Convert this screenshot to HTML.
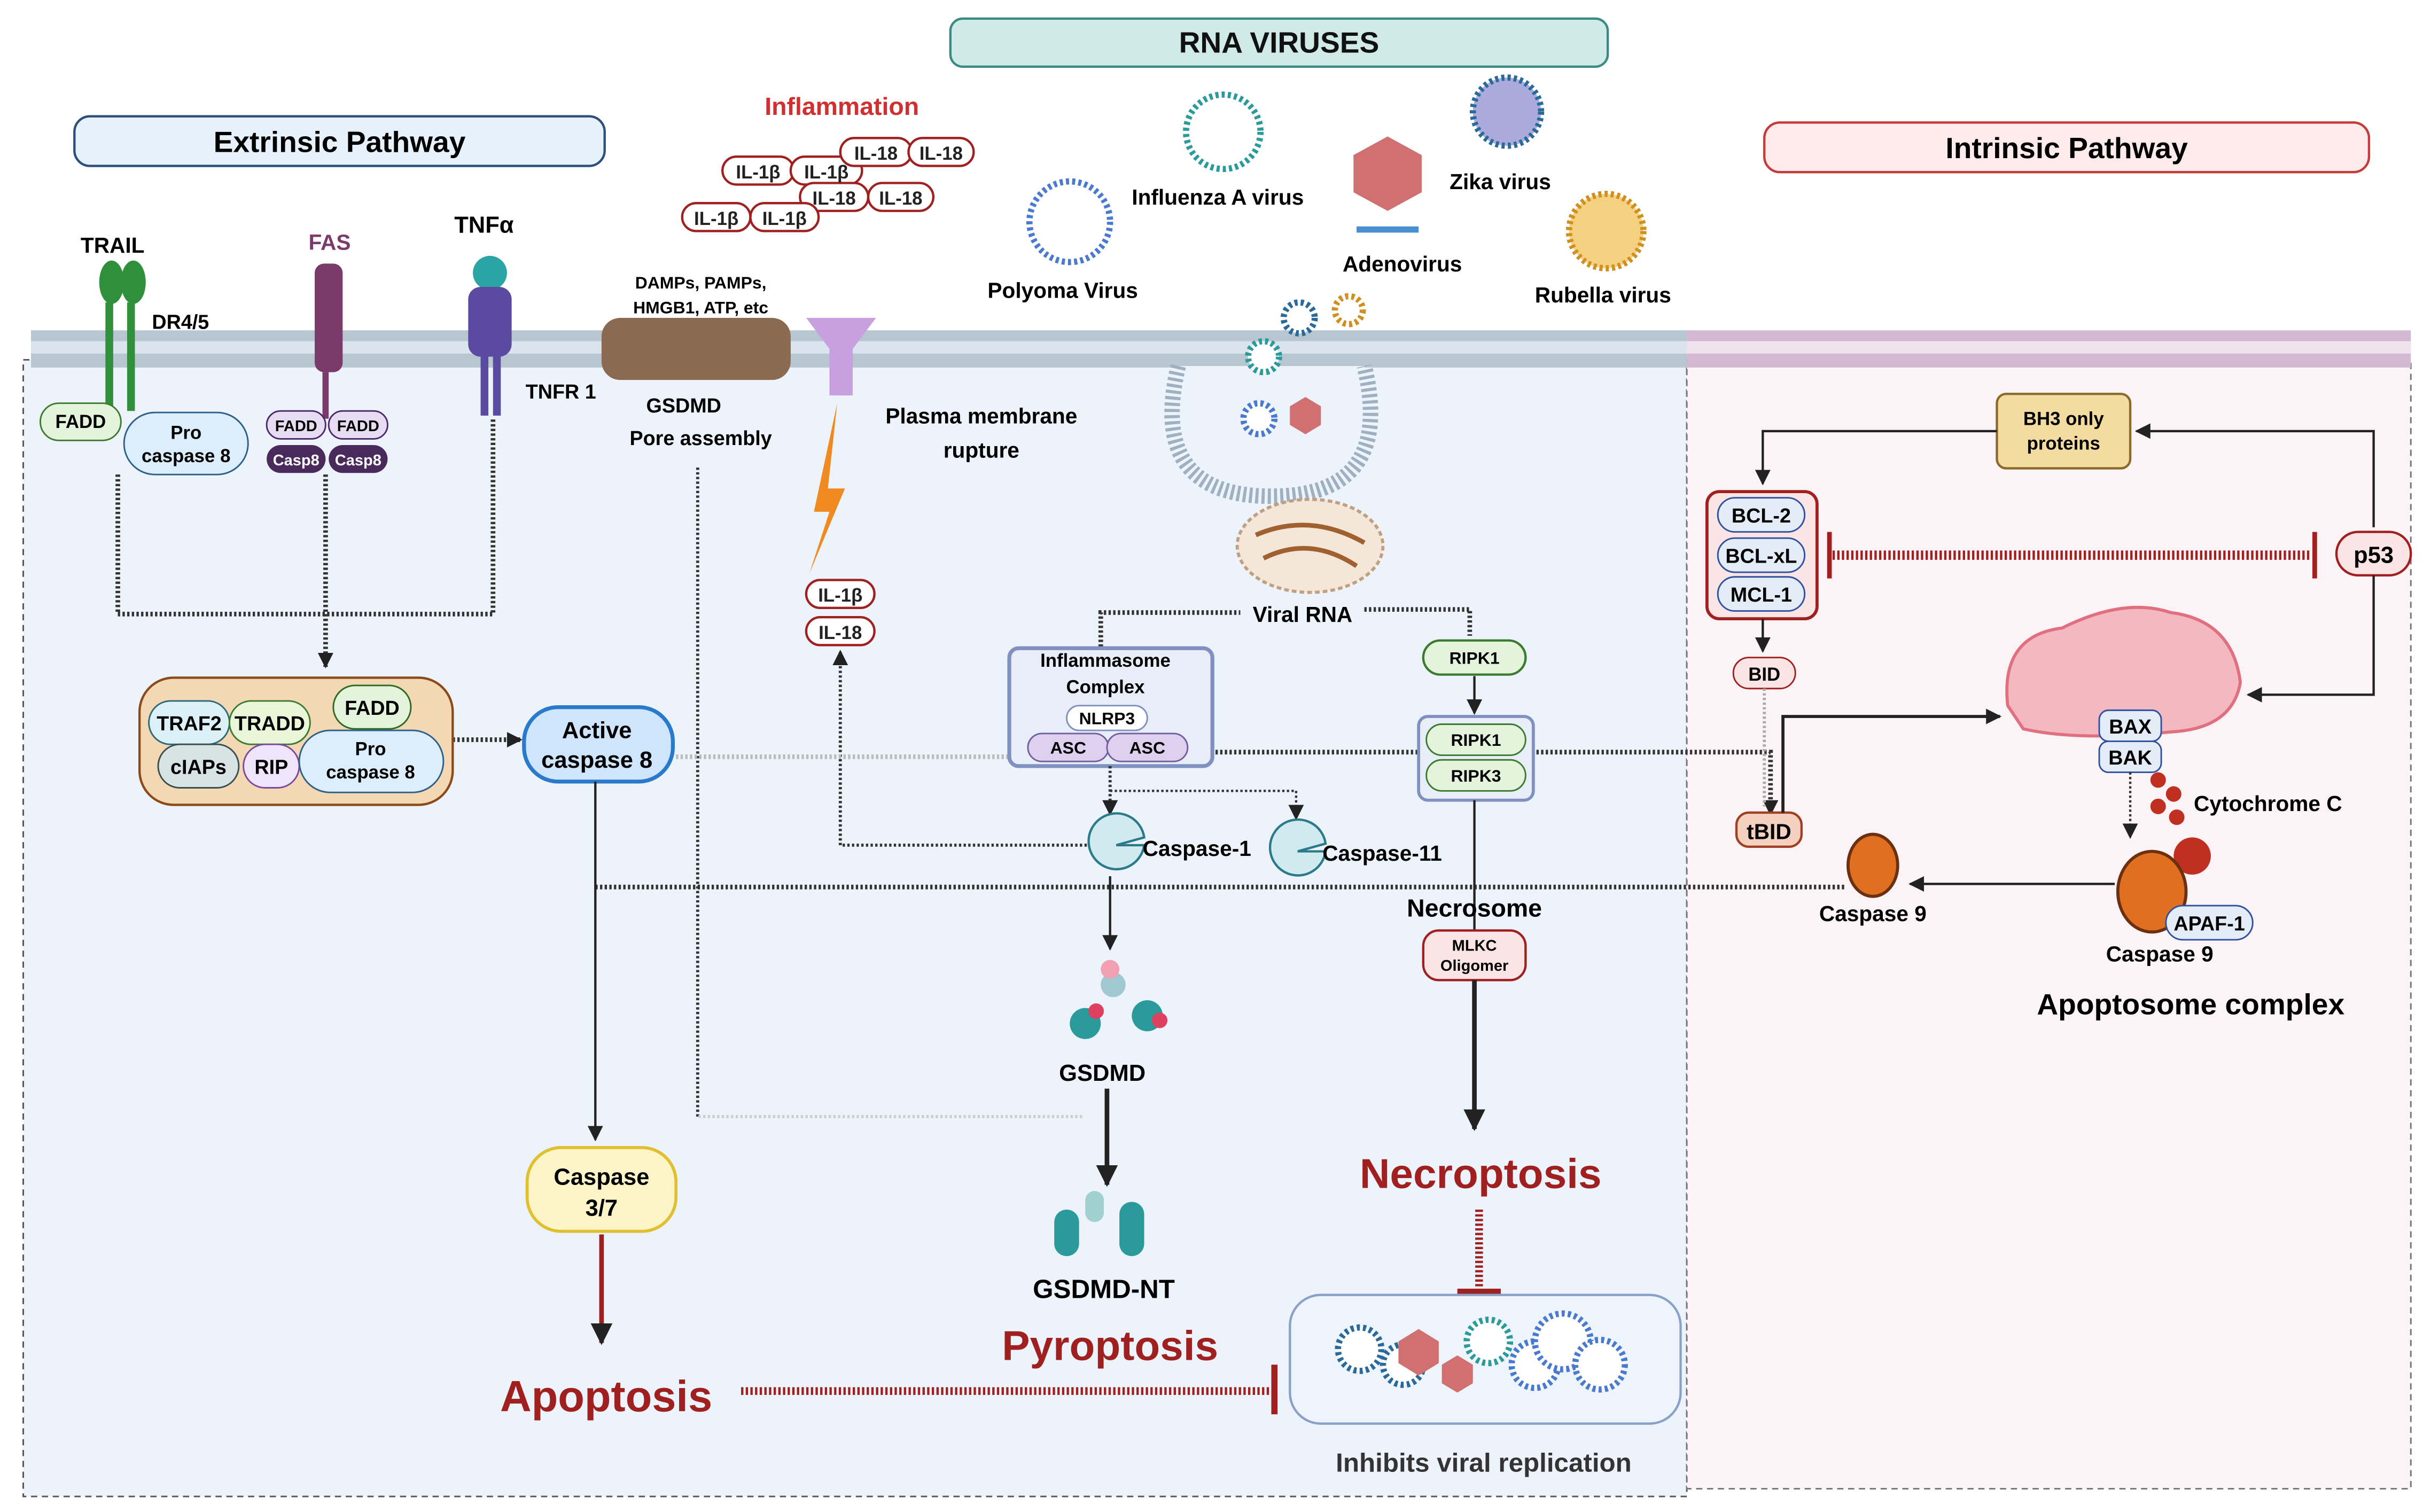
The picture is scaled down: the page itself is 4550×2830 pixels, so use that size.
<!DOCTYPE html>
<html><head><meta charset="utf-8"><style>
html,body{margin:0;padding:0;background:#fff}
svg{display:block}
text{font-family:"Liberation Sans",sans-serif;font-weight:bold}
</style></head><body>
<svg width="4550" height="2830" viewBox="0 0 1568 975" preserveAspectRatio="none" xmlns="http://www.w3.org/2000/svg">
<defs>
<marker id="a" viewBox="0 0 10 10" refX="9" refY="5" markerUnits="userSpaceOnUse" markerWidth="10" markerHeight="10" orient="auto"><path d="M0,0L10,5L0,10z" fill="#222"/></marker>
<marker id="b" viewBox="0 0 10 10" refX="9" refY="5" markerUnits="userSpaceOnUse" markerWidth="14" markerHeight="14" orient="auto"><path d="M0,0L10,5L0,10z" fill="#222"/></marker>
</defs>
<rect width="1568" height="975" fill="#fff"/>
<rect x="15" y="232" width="1073" height="733" fill="#edf3fb" stroke="#555" stroke-dasharray="4,3"/>
<rect x="1088" y="232" width="467" height="728" fill="#fcf3f7" stroke="#777" stroke-dasharray="4,3"/>
<rect x="20" y="213" width="1068" height="24" fill="#b8c6d2"/>
<rect x="20" y="220" width="1068" height="8" fill="#dbe4ec"/>
<rect x="1088" y="213" width="467" height="24" fill="#d4b8d2"/>
<rect x="1088" y="220" width="467" height="8" fill="#efe3ef"/>
<path d="M760,236 Q740,320 820,320 Q900,320 880,236" fill="#edf3fb" stroke="#9fb0c0" stroke-width="10" stroke-dasharray="2,2"/>
<rect x="613" y="12" width="424" height="31" rx="8" fill="#cfeae7" stroke="#3c8a84" stroke-width="1.5"/>
<text x="825" y="34" font-size="19" text-anchor="middle" fill="#111">RNA VIRUSES</text>
<rect x="48" y="75" width="342" height="32" rx="10" fill="#e7f1fb" stroke="#2c4f7c" stroke-width="1.5"/>
<text x="219" y="98" font-size="19" text-anchor="middle">Extrinsic Pathway</text>
<rect x="1138" y="79" width="390" height="32" rx="10" fill="#fdeaea" stroke="#c53b3b" stroke-width="1.5"/>
<text x="1333" y="102" font-size="19" text-anchor="middle">Intrinsic Pathway</text>
<g fill="#2f8f3a"><ellipse cx="72" cy="182" rx="8" ry="14"/><ellipse cx="86" cy="182" rx="8" ry="14"/><rect x="68" y="195" width="5" height="70"/><rect x="82" y="195" width="5" height="70"/></g>
<g fill="#7a3a6a"><rect x="203" y="170" width="18" height="70" rx="6"/><rect x="208" y="240" width="4" height="30"/></g>
<g fill="#5a4aa0"><circle cx="316" cy="176" r="11" fill="#2aa4a4"/><rect x="302" y="185" width="28" height="45" rx="8"/><rect x="310" y="228" width="5" height="40"/><rect x="318" y="228" width="5" height="40"/></g>
<text x="52" y="163" font-size="14">TRAIL</text>
<text x="98" y="212" font-size="13">DR4/5</text>
<text x="199" y="161" font-size="14" fill="#7a3a6a">FAS</text>
<text x="293" y="150" font-size="15">TNFα</text>
<text x="339" y="257" font-size="13">TNFR 1</text>
<rect x="26" y="260" width="52" height="24" rx="12" fill="#e4f4dc" stroke="#3c7a30"/><text x="52" y="276" font-size="12" text-anchor="middle" font-weight="normal">FADD</text>
<rect x="80" y="266" width="80" height="40" rx="20" fill="#dceefb" stroke="#2c5f8a"/><text x="120" y="283" font-size="12" text-anchor="middle">Pro</text><text x="120" y="298" font-size="12" text-anchor="middle">caspase 8</text>
<g font-size="10" text-anchor="middle" font-weight="normal"><rect x="172" y="265" width="38" height="18" rx="9" fill="#e8dcf2" stroke="#4a2a6a"/><text x="191" y="278">FADD</text><rect x="212" y="265" width="38" height="18" rx="9" fill="#e8dcf2" stroke="#4a2a6a"/><text x="231" y="278">FADD</text>
<rect x="172" y="287" width="38" height="18" rx="9" fill="#4a2a5a"/><text x="191" y="300" fill="#fff">Casp8</text><rect x="212" y="287" width="38" height="18" rx="9" fill="#4a2a5a"/><text x="231" y="300" fill="#fff">Casp8</text></g>
<g stroke="#333" stroke-width="3" fill="none" stroke-dasharray="1.5,1.5">
<path d="M76,306 V396 H318 V270"/>
<path d="M210,306 V430" marker-end="url(#a)"/>
<path d="M292,477 H336" marker-end="url(#a)"/>
<path d="M384,572 H1190"/>
<path d="M710,420 V395 H800"/><path d="M880,393 H948 V410"/>
<path d="M784,485 H1142 V525" marker-end="url(#a)"/>
<path d="M450,720 V300" stroke-width="2"/>
<path d="M716,545 H542 V420" stroke-width="2" marker-end="url(#a)"/>
</g>
<path d="M436,488 H660" stroke="#bbb" stroke-width="3" stroke-dasharray="1.5,1.5"/>
<rect x="90" y="437" width="202" height="82" rx="22" fill="#f4d8b4" stroke="#8a4a1a" stroke-width="1.5"/>
<g font-size="13" text-anchor="middle">
<rect x="96" y="452" width="52" height="28" rx="14" fill="#dcf0f8" stroke="#2c6a7a"/><text x="122" y="471">TRAF2</text>
<rect x="148" y="452" width="52" height="28" rx="14" fill="#eaf6d8" stroke="#3c7a30"/><text x="174" y="471">TRADD</text>
<rect x="215" y="442" width="50" height="28" rx="14" fill="#e4f4dc" stroke="#2c6a20"/><text x="240" y="461">FADD</text>
<rect x="102" y="480" width="52" height="28" rx="14" fill="#d8e4e4" stroke="#3a5050"/><text x="128" y="499">cIAPs</text>
<rect x="157" y="480" width="36" height="28" rx="14" fill="#f0e4fa" stroke="#7a4aa0"/><text x="175" y="499">RIP</text>
<rect x="193" y="471" width="93" height="40" rx="20" fill="#dceefb" stroke="#2c5f8a"/><text x="239" y="487" font-size="12">Pro</text><text x="239" y="502" font-size="12">caspase 8</text>
</g>
<rect x="338" y="456" width="96" height="48" rx="22" fill="#cfe5fb" stroke="#2a7acc" stroke-width="2.5"/>
<text x="385" y="476" font-size="15" text-anchor="middle">Active</text><text x="385" y="495" font-size="15" text-anchor="middle">caspase 8</text>
<path d="M384,504 V735" stroke="#222" stroke-width="1.5" marker-end="url(#a)"/>
<rect x="340" y="740" width="96" height="54" rx="22" fill="#fdf5c8" stroke="#e0c030" stroke-width="2"/>
<text x="388" y="764" font-size="15" text-anchor="middle">Caspase</text><text x="388" y="784" font-size="15" text-anchor="middle">3/7</text>
<path d="M388,796 V866" stroke="#a02020" stroke-width="3" marker-end="url(#b)"/>
<text x="391" y="910" font-size="28" text-anchor="middle" fill="#a02020">Apoptosis</text>
<path d="M478,897 H820" stroke="#a02020" stroke-width="5" stroke-dasharray="1.5,1.5"/><path d="M822,880 V912" stroke="#a02020" stroke-width="4"/>
<rect x="388" y="205" width="122" height="40" rx="12" fill="#8a6a50"/>
<text x="452" y="186" font-size="11" text-anchor="middle" font-weight="normal">DAMPs, PAMPs,</text><text x="452" y="202" font-size="11" text-anchor="middle" font-weight="normal">HMGB1, ATP, etc</text>
<text x="441" y="266" font-size="13" text-anchor="middle">GSDMD</text><text x="452" y="287" font-size="13" text-anchor="middle">Pore assembly</text>
<path d="M520,205 H565 L550,225 V255 H535 V225 Z" fill="#c8a0e0"/>
<text x="633" y="273" font-size="14" text-anchor="middle">Plasma membrane</text><text x="633" y="295" font-size="14" text-anchor="middle">rupture</text>
<path d="M540,260 L525,330 L535,330 L522,370 L545,315 L534,315 Z" fill="#f08a20"/>
<text x="543" y="74" font-size="16" text-anchor="middle" fill="#d03030">Inflammation</text>
<g font-size="12" text-anchor="middle" fill="#222">
<g fill="#fff" stroke="#a02020" stroke-width="1.5">
<rect x="466" y="101" width="46" height="18" rx="9"/><rect x="510" y="101" width="46" height="18" rx="9"/><rect x="542" y="89" width="46" height="18" rx="9"/><rect x="586" y="89" width="42" height="18" rx="9"/>
<rect x="516" y="118" width="44" height="18" rx="9"/><rect x="560" y="118" width="42" height="18" rx="9"/><rect x="440" y="131" width="44" height="18" rx="9"/><rect x="484" y="131" width="44" height="18" rx="9"/>
<rect x="520" y="374" width="44" height="18" rx="9"/><rect x="520" y="398" width="44" height="18" rx="9"/></g>
<text x="489" y="115">IL-1β</text><text x="533" y="115">IL-1β</text><text x="565" y="103">IL-18</text><text x="607" y="103">IL-18</text>
<text x="538" y="132">IL-18</text><text x="581" y="132">IL-18</text><text x="462" y="145">IL-1β</text><text x="506" y="145">IL-1β</text>
<text x="542" y="388">IL-1β</text><text x="542" y="412">IL-18</text></g>
<g stroke-dasharray="2,2" stroke-width="4" fill="#fff">
<circle cx="690" cy="143" r="26" stroke="#4a7ad0"/><circle cx="789" cy="85" r="24" stroke="#2a9a9a"/><circle cx="972" cy="72" r="22" stroke="#2a6a9a" fill="#aad"/><circle cx="1036" cy="149" r="24" stroke="#d09020" fill="#f4d080"/>
<circle cx="838" cy="205" r="10" stroke="#2a6a9a"/><circle cx="870" cy="200" r="9" stroke="#d09020"/><circle cx="815" cy="230" r="10" stroke="#2a9a9a"/><circle cx="812" cy="270" r="10" stroke="#4a7ad0"/></g>
<path d="M895,88 L917,100 V124 L895,136 L873,124 V100 Z" fill="#d07070"/><path d="M842,256 L852,262 V274 L842,280 L832,274 V262 Z" fill="#d07070"/>
<rect x="875" y="146" width="40" height="4" fill="#4a90d0"/>
<g font-size="14"><text x="730" y="132">Influenza A virus</text><text x="935" y="122">Zika virus</text><text x="637" y="192">Polyoma  Virus</text><text x="866" y="175">Adenovirus</text><text x="990" y="195">Rubella virus</text></g>
<ellipse cx="845" cy="352" rx="47" ry="30" fill="#f4e6d8" stroke="#c0a080" stroke-dasharray="3,2" stroke-width="2"/>
<path d="M810,345 Q845,330 880,350 M815,360 Q845,345 875,365" stroke="#a06030" stroke-width="3" fill="none"/>
<text x="808" y="401" font-size="14">Viral RNA</text>
<rect x="651" y="418" width="131" height="76" rx="6" fill="#e8eef8" stroke="#8090c0" stroke-width="2.5"/>
<text x="713" y="430" font-size="12" text-anchor="middle">Inflammasome</text><text x="713" y="447" font-size="12" text-anchor="middle">Complex</text>
<rect x="688" y="455" width="52" height="16" rx="8" fill="#fff" stroke="#8090c0"/><text x="714" y="467" font-size="11" text-anchor="middle" font-weight="normal">NLRP3</text>
<rect x="663" y="473" width="52" height="18" rx="9" fill="#e0d0f0" stroke="#7060a0"/><text x="689" y="486" font-size="11" text-anchor="middle">ASC</text>
<rect x="714" y="473" width="52" height="18" rx="9" fill="#e0d0f0" stroke="#7060a0"/><text x="740" y="486" font-size="11" text-anchor="middle">ASC</text>
<path d="M716,494 V525" stroke="#333" stroke-width="2" stroke-dasharray="1.5,1.5" marker-end="url(#a)"/>
<path d="M716,510 H836 V528" stroke="#333" stroke-width="1.5" stroke-dasharray="1.5,1.5" fill="none" marker-end="url(#a)"/>
<path d="M738,545 A18,18 0 1 1 738,540 L720,545 Z" fill="#d0eaf0" stroke="#2a7a8a" stroke-width="1.5"/>
<text x="737" y="552" font-size="14">Caspase-1</text>
<path d="M855,549 A18,18 0 1 1 855,544 L837,549 Z" fill="#d0eaf0" stroke="#2a7a8a" stroke-width="1.5"/>
<text x="853" y="555" font-size="14">Caspase-11</text>
<path d="M716,565 V612" stroke="#222" stroke-width="1.5" marker-end="url(#a)"/>
<g fill="#2a9a9a"><circle cx="700" cy="660" r="10"/><circle cx="740" cy="655" r="10"/><circle cx="718" cy="635" r="8" fill="#a0c8d0"/></g><circle cx="716" cy="625" r="6" fill="#f0a0b0"/><circle cx="707" cy="652" r="5" fill="#e04060"/><circle cx="748" cy="658" r="5" fill="#e04060"/>
<text x="711" y="697" font-size="15" text-anchor="middle">GSDMD</text>
<path d="M714,702 V764" stroke="#222" stroke-width="3" marker-end="url(#b)"/>
<path d="M698,720 H450" stroke="#ccc" stroke-width="2" stroke-dasharray="1.5,1.5"/>
<g fill="#2a9a9a"><rect x="680" y="780" width="16" height="30" rx="8"/><rect x="722" y="775" width="16" height="35" rx="8"/><rect x="700" y="768" width="12" height="20" rx="6" fill="#a0d0d0"/></g>
<text x="712" y="837" font-size="17" text-anchor="middle">GSDMD-NT</text>
<text x="716" y="877" font-size="27" text-anchor="middle" fill="#a02020">Pyroptosis</text>
<rect x="918" y="413" width="66" height="22" rx="11" fill="#e4f4dc" stroke="#3c7a30" stroke-width="1.5"/><text x="951" y="428" font-size="11" text-anchor="middle">RIPK1</text>
<path d="M951,436 V460" stroke="#222" stroke-width="1.5" marker-end="url(#a)"/>
<rect x="915" y="462" width="74" height="54" rx="6" fill="#e8eef8" stroke="#8090c0" stroke-width="2"/>
<rect x="920" y="467" width="64" height="20" rx="10" fill="#e4f4dc" stroke="#3c7a30"/><text x="952" y="481" font-size="11" text-anchor="middle">RIPK1</text>
<rect x="920" y="490" width="64" height="20" rx="10" fill="#e4f4dc" stroke="#3c7a30"/><text x="952" y="504" font-size="11" text-anchor="middle">RIPK3</text>
<path d="M951,516 V600" stroke="#222" stroke-width="1.5"/>
<text x="951" y="591" font-size="16" text-anchor="middle">Necrosome</text>
<rect x="918" y="600" width="66" height="32" rx="10" fill="#fbe4e4" stroke="#a02020" stroke-width="1.5"/>
<text x="951" y="613" font-size="10" text-anchor="middle">MLKC</text><text x="951" y="626" font-size="10" text-anchor="middle">Oligomer</text>
<path d="M951,632 V728" stroke="#222" stroke-width="3" marker-end="url(#b)"/>
<text x="955" y="766" font-size="27" text-anchor="middle" fill="#a02020">Necroptosis</text>
<path d="M954,780 V830" stroke="#a02020" stroke-width="5" stroke-dasharray="1.5,1.5"/><path d="M940,833 H968" stroke="#a02020" stroke-width="4"/>
<rect x="832" y="835" width="252" height="83" rx="20" fill="#eef4fb" stroke="#8aa0c8" stroke-width="1.5"/>
<g stroke-dasharray="2,2" stroke-width="4" fill="#fff"><circle cx="877" cy="870" r="14" stroke="#2a6a9a"/><circle cx="905" cy="880" r="13" stroke="#2a6a9a"/><circle cx="960" cy="865" r="14" stroke="#2a9a9a"/><circle cx="990" cy="880" r="15" stroke="#4a7ad0"/><circle cx="1008" cy="865" r="18" stroke="#4a7ad0"/><circle cx="1032" cy="880" r="16" stroke="#4a7ad0"/></g>
<path d="M915,857 L928,865 V879 L915,887 L902,879 V865 Z" fill="#d07070"/><path d="M940,874 L950,880 V892 L940,898 L930,892 V880 Z" fill="#d07070"/>
<text x="957" y="949" font-size="17" text-anchor="middle" fill="#333">Inhibits viral replication</text>
<rect x="1288" y="254" width="86" height="48" rx="6" fill="#f4dca0" stroke="#8a6a2a" stroke-width="1.5"/>
<text x="1331" y="274" font-size="12" text-anchor="middle">BH3 only</text><text x="1331" y="290" font-size="12" text-anchor="middle">proteins</text>
<path d="M1288,278 H1137 V312" stroke="#222" stroke-width="1.5" fill="none" marker-end="url(#a)"/>
<path d="M1531,340 V278 H1378" stroke="#222" stroke-width="1.5" fill="none" marker-end="url(#a)"/>
<rect x="1101" y="317" width="71" height="82" rx="8" fill="#fbe4e4" stroke="#a02020" stroke-width="2"/>
<g font-size="13" text-anchor="middle"><rect x="1108" y="321" width="56" height="22" rx="11" fill="#e4ecf8" stroke="#3050a0"/><text x="1136" y="337">BCL-2</text>
<rect x="1108" y="347" width="56" height="22" rx="11" fill="#e4ecf8" stroke="#3050a0"/><text x="1136" y="363">BCL-xL</text>
<rect x="1108" y="372" width="56" height="22" rx="11" fill="#e4ecf8" stroke="#3050a0"/><text x="1136" y="388">MCL-1</text></g>
<path d="M1182,358 H1490" stroke="#a02020" stroke-width="6" stroke-dasharray="1.5,1.5"/><path d="M1180,343 V373 M1493,343 V373" stroke="#a02020" stroke-width="3"/>
<rect x="1507" y="343" width="48" height="28" rx="14" fill="#fbe4e4" stroke="#a02020" stroke-width="1.5"/><text x="1531" y="363" font-size="15" text-anchor="middle">p53</text>
<path d="M1531,371 V448 H1450" stroke="#222" stroke-width="1.5" fill="none" marker-end="url(#a)"/>
<path d="M1137,399 V420" stroke="#222" stroke-width="1.5" marker-end="url(#a)"/>
<rect x="1118" y="424" width="40" height="20" rx="10" fill="#fbe4e4" stroke="#a02020"/><text x="1138" y="439" font-size="12" text-anchor="middle" font-weight="normal">BID</text>
<path d="M1138,444 V520" stroke="#aaa" stroke-width="2" stroke-dasharray="1.5,1.5"/>
<rect x="1120" y="524" width="42" height="22" rx="8" fill="#f4d0c0" stroke="#a04020" stroke-width="1.5"/><text x="1141" y="541" font-size="14" text-anchor="middle">tBID</text>
<path d="M1150,524 V462 H1290" stroke="#222" stroke-width="2" fill="none" marker-end="url(#a)"/>
<path d="M1295,455 Q1290,410 1330,405 Q1370,385 1400,395 Q1440,400 1445,440 Q1440,470 1400,472 Q1340,478 1305,470 Z" fill="#f4b8c0" stroke="#e07080" stroke-width="2"/>
<rect x="1354" y="458" width="40" height="20" rx="6" fill="#e4ecf8" stroke="#3050a0"/><text x="1374" y="473" font-size="13" text-anchor="middle">BAX</text>
<rect x="1354" y="478" width="40" height="20" rx="6" fill="#e4ecf8" stroke="#3050a0"/><text x="1374" y="493" font-size="13" text-anchor="middle">BAK</text>
<path d="M1374,498 V540" stroke="#333" stroke-width="1.5" stroke-dasharray="1.5,1.5" marker-end="url(#a)"/>
<g fill="#c03020"><circle cx="1392" cy="503" r="5"/><circle cx="1402" cy="512" r="5"/><circle cx="1392" cy="520" r="5"/><circle cx="1404" cy="527" r="5"/><circle cx="1414" cy="552" r="12"/></g>
<text x="1415" y="523" font-size="14">Cytochrome C</text>
<ellipse cx="1388" cy="575" rx="22" ry="26" fill="#e07020" stroke="#6a3010" stroke-width="2"/>
<rect x="1397" y="584" width="56" height="22" rx="11" fill="#e4ecf8" stroke="#3050a0"/><text x="1425" y="600" font-size="13" text-anchor="middle">APAF-1</text>
<text x="1393" y="620" font-size="14" text-anchor="middle">Caspase 9</text>
<text x="1413" y="654" font-size="19" text-anchor="middle">Apoptosome complex</text>
<path d="M1364,570 H1232" stroke="#222" stroke-width="1.5" marker-end="url(#a)"/>
<ellipse cx="1208" cy="558" rx="16" ry="20" fill="#e07020" stroke="#6a3010" stroke-width="2"/>
<text x="1208" y="594" font-size="14" text-anchor="middle">Caspase 9</text>
</svg>
</body></html>
